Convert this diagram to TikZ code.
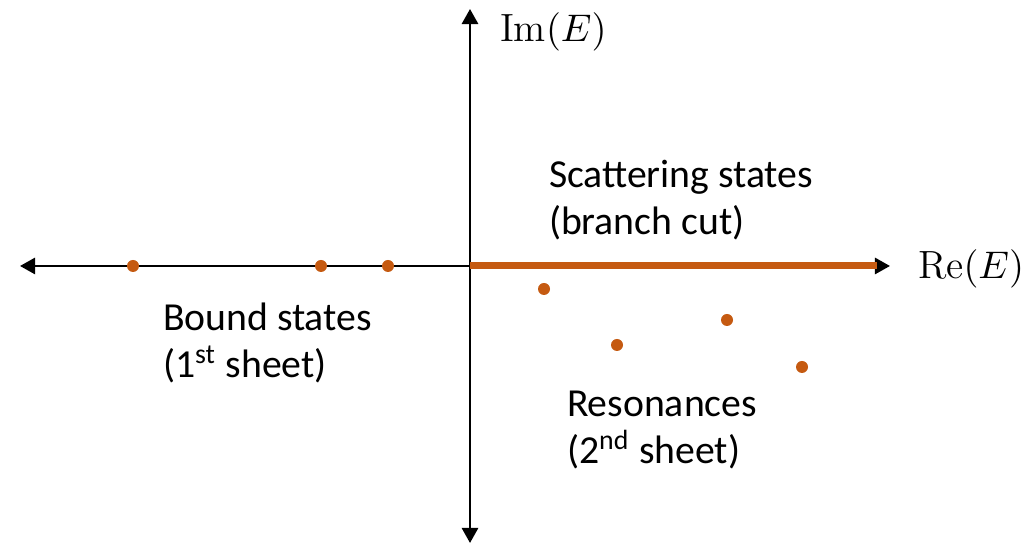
\documentclass[tikz,border=0pt]{standalone}
\usepackage{fontspec}
\setmainfont{Carlito}
\setmathrm{Latin Modern Roman}
\usetikzlibrary{arrows.meta}
\usetikzlibrary{positioning}
\definecolor{cutorange}{RGB}{197,90,17}
\tikzstyle{every node}=[inner sep=0pt, outer sep=0pt]
\tikzstyle{pole}=[circle, fill=cutorange, minimum size=0.12cm, inner sep=0pt]
\tikzstyle{axis}=[black, line width=0.75pt, -{Triangle[length=4.3pt,width=4.6pt]}]
\tikzstyle{caption}=[align=left, anchor=west, font=\fontsize{11.3}{13.2}\selectfont]

\begin{document}
\begin{tikzpicture}
    \useasboundingbox (0,0) rectangle (10.22,5.44);

    % axes
    \coordinate (O) at (4.70,2.78);
    \coordinate (L) at (0.20,2.78);
    \coordinate (R) at (8.90,2.78);
    \coordinate (T) at (4.70,5.35);
    \coordinate (B) at (4.70,0.01);
    \coordinate (C) at (8.77,2.78);

    \draw[axis] (O) -- (L);
    \draw[axis] (O) -- (R);
    \draw[axis] (O) -- (T);
    \draw[axis] (O) -- (B);

    % branch cut
    \draw[cutorange, line width=2pt] (O) -- (C);

    \node[anchor=west, font=\fontsize{11.2}{13}\selectfont] (im) at (5.00,5.12) {$\mathrm{Im}(E)$};
    \node[anchor=west, font=\fontsize{11.2}{13}\selectfont] (re) at (9.18,2.75) {$\mathrm{Re}(E)$};

    % bound states on the negative axis
    \foreach \x [count=\i] in {1.33,3.21,3.88} {
        \node[pole] (b\i) at (\x,2.78) {};
    }

    % resonances below the axis
    \foreach \x/\y [count=\i] in {5.44/2.55, 6.17/1.99, 7.27/2.24, 8.02/1.77} {
        \node[pole] (r\i) at (\x,\y) {};
    }

    \node[caption] (scat) at (5.49,3.44) {Scattering states\\(branch cut)};
    \node[caption] (bound) at (1.63,2.01) {Bound states\\(1\textsuperscript{st} sheet)};
    \node[caption] (res) at (5.67,1.14) {Resonances\\(2\textsuperscript{nd} sheet)};

\end{tikzpicture}
\end{document}
